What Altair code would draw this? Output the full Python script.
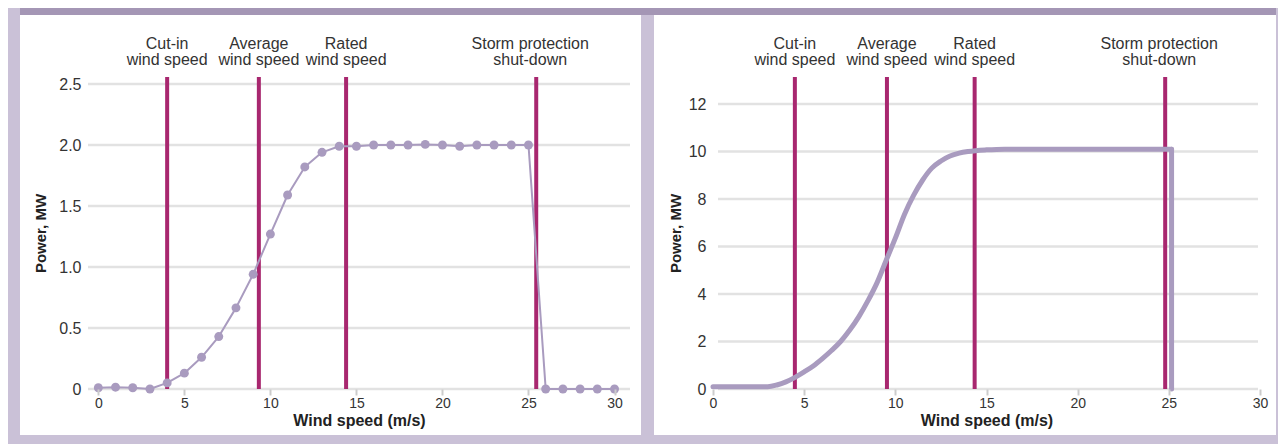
import altair as alt
import pandas as pd

# ---------------- data ----------------
left_speed = list(range(31))
left_power = [0.01, 0.015, 0.01, 0.0, 0.05, 0.13, 0.26, 0.43, 0.665, 0.94,
              1.27, 1.59, 1.82, 1.94, 1.99, 1.99, 2.0, 2.0, 2.0, 2.005,
              2.0, 1.99, 2.0, 2.0, 2.0, 2.0, 0.0, 0.0, 0.0, 0.0, 0.0]
left_events = [4.0, 9.33, 14.4, 25.45]
left_label_x = [4.0, 9.33, 14.4, 25.1]

right_speed = [0, 1, 2, 3, 3.5, 4, 4.5, 5, 5.5, 6, 6.5, 7, 7.5, 8, 8.5, 9, 9.5,
               10, 10.5, 11, 11.5, 12, 12.5, 13, 13.5, 14, 15, 16, 18, 20, 22, 25.15]
right_power = [0.1, 0.1, 0.1, 0.1, 0.17, 0.3, 0.49, 0.72, 0.97, 1.28, 1.62, 2.0,
               2.48, 3.05, 3.72, 4.48, 5.42, 6.35, 7.35, 8.15, 8.8, 9.3, 9.6, 9.81,
               9.93, 10.0, 10.07, 10.1, 10.1, 10.1, 10.1, 10.1]
right_cut_speed = [25.15, 25.15]
right_cut_power = [10.1, 0.0]
right_events = [4.49, 9.54, 14.35, 24.8]
right_label_x = [4.49, 9.54, 14.35, 24.47]

event_labels = ["Cut-in\nwind speed", "Average\nwind speed",
                "Rated\nwind speed", "Storm protection\nshut-down"]
x_ticks = [0, 5, 10, 15, 20, 25, 30]
left_y_ticks = [0, 0.5, 1.0, 1.5, 2.0, 2.5]
right_y_ticks = [0, 2, 4, 6, 8, 10, 12]

# ---------------- style ----------------
FONT = "Liberation Sans"
CURVE = "#a99bbf"
EVENT = "#a8276f"
GRID = "#e2e2e2"
LIGHT_PURPLE = "#cac1d7"
DARK_PURPLE = "#a496b5"
H = 312


def one():
    return alt.Data(values=[{"k": 0}])


def rect(x, x2, y, y2, color):
    return alt.Chart(one()).mark_rect(fill=color, strokeWidth=0).encode(
        x=alt.value(x), x2=alt.value(x2), y=alt.value(y), y2=alt.value(y2))


def panel(speed, power, events, label_x, yticks, xdom, ydom, width,
          label_expr, title_pad, dots, line_width, interp, backgrounds,
          grid_x0, grid_x1, cut=None):
    xscale = alt.Scale(domain=xdom, nice=False, zero=False)
    yscale = alt.Scale(domain=ydom, nice=False, zero=False)
    xaxis = alt.Axis(values=x_ticks, title="Wind speed (m/s)", grid=False,
                     domain=False, ticks=True, tickColor="#cccccc", tickWidth=2,
                     tickSize=6, labelFontSize=14, labelPadding=1,
                     labelColor="#333333", labelFont=FONT, labelFlush=False,
                     titleFont=FONT, titleFontSize=16, titleFontWeight="bold",
                     titleColor="#222222", titlePadding=2, zindex=1)
    yaxis = alt.Axis(values=yticks, title="Power, MW", grid=False, domain=False,
                     ticks=False, labelFontSize=16, labelPadding=7,
                     labelColor="#333333", labelFont=FONT, labelExpr=label_expr,
                     titleFont=FONT, titleFontSize=15, titleFontWeight="bold",
                     titleColor="#222222", titlePadding=title_pad, zindex=1)

    def X():
        return alt.X("speed:Q", scale=xscale, axis=xaxis)

    def Y():
        return alt.Y("power:Q", scale=yscale, axis=yaxis)

    grid = alt.Chart(pd.DataFrame({"power": yticks})).mark_rule(
        color=GRID, strokeWidth=2.5).encode(
        y=Y(), x=alt.value(grid_x0), x2=alt.value(grid_x1))
    ev = alt.Chart(pd.DataFrame({"speed": events})).mark_rule(
        color=EVENT, strokeWidth=4).encode(x=X())
    lab = alt.Chart(pd.DataFrame({"speed": label_x, "label": event_labels})).mark_text(
        font=FONT, fontSize=16, color="#333333", lineBreak="\n", lineHeight=16,
        align="center", baseline="alphabetic").encode(
        x=X(), y=alt.value(-28), text="label:N")
    df = pd.DataFrame({"speed": speed, "power": power})
    line = alt.Chart(df).mark_line(color=CURVE, strokeWidth=line_width,
                                   interpolate=interp, strokeCap="round",
                                   strokeJoin="round").encode(x=X(), y=Y())
    layers = list(backgrounds) + [grid, ev, lab, line]
    if cut is not None:
        cdf = pd.DataFrame({"speed": cut[0], "power": cut[1]})
        layers.append(alt.Chart(cdf).mark_line(
            color=CURVE, strokeWidth=line_width, strokeCap="round").encode(x=X(), y=Y()))
    if dots:
        layers.append(alt.Chart(df).mark_circle(color=CURVE, size=80, opacity=1).encode(
            x=X(), y=Y()))
    return alt.layer(*layers).properties(width=width, height=H)


W1 = 542
W2 = 547
left_bg = [
    rect(-80, 1190, -69, 367, LIGHT_PURPLE),
    rect(-68, 1188, -69, -62, DARK_PURPLE),
    rect(-68, 553, -62, 358, "white"),
]
right_bg = [rect(-59, 563, -62, 358, "white")]

left = panel(left_speed, left_power, left_events, left_label_x, left_y_ticks,
             [-0.6, 30.9], [0, H / 122.0], W1,
             "datum.value == 0 ? '0' : format(datum.value, '.1f')", 10,
             True, 2, "linear", left_bg, 0, W1)
right = panel(right_speed, right_power, right_events, right_label_x, right_y_ticks,
              [0, 30], [0, H / 23.75], W2, "format(datum.value, 'd')", 5,
              False, 5, "monotone", right_bg, 5, W2 - 2,
              cut=(right_cut_speed, right_cut_power))

chart = alt.hconcat(left, right, spacing=83, bounds="flush").configure(
    background="white", padding=0
).configure_view(stroke=None)

chart.save("out.html", embed_options={"renderer": "svg", "actions": False})
